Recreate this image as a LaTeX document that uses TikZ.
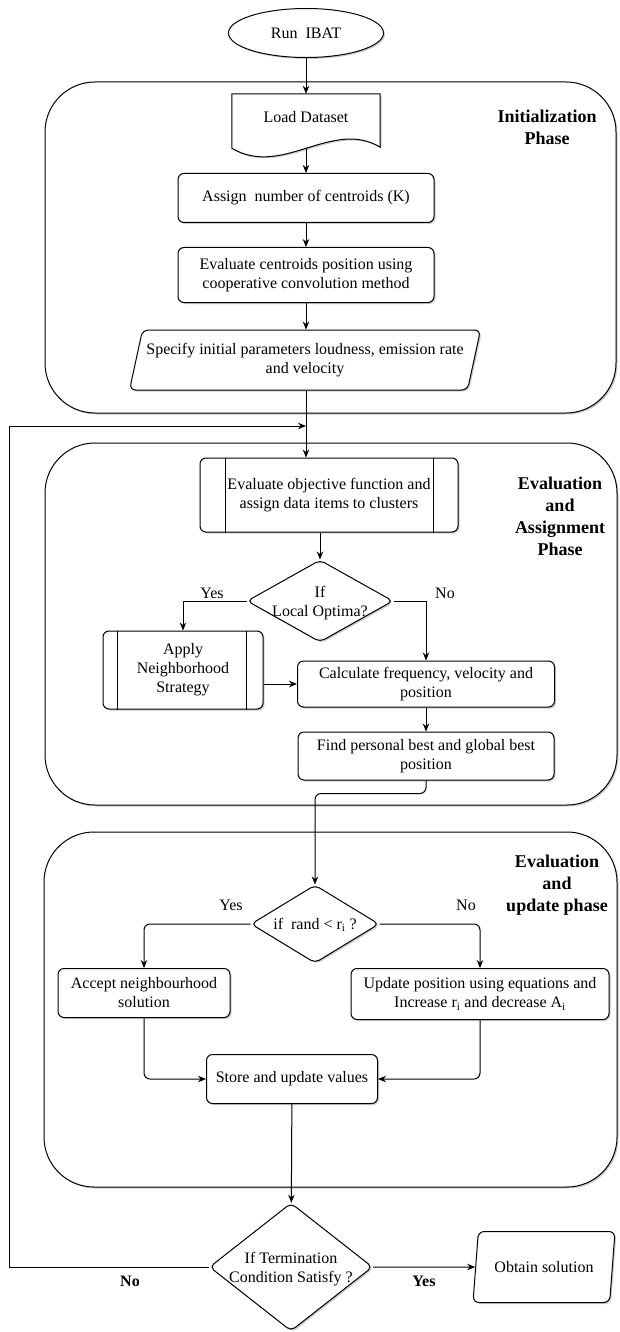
\documentclass[tikz,border=0pt]{standalone}
\usepackage{fontspec}
\setmainfont{Liberation Serif}
\usetikzlibrary{arrows.meta,shapes.geometric,shadows,calc}

\tikzset{
  every node/.style={font=\fontsize{16}{19}\selectfont, align=center},
  dshadow/.style={drop shadow={shadow xshift=1.5pt, shadow yshift=-1.5pt, opacity=0.4}},
  box/.style={draw, line width=1pt, fill=white, rounded corners=6pt, dshadow, inner sep=2pt},
  decision/.style={draw, line width=1pt, fill=white, diamond, rounded corners=5pt, inner sep=0pt, dshadow},
  io/.style={draw, line width=1pt, fill=white, trapezium, trapezium left angle=70,
    trapezium right angle=110, trapezium stretches body=true, rounded corners=6pt, dshadow, inner sep=1pt},
  phase/.style={draw, line width=1pt, fill=white, rounded corners=50pt, dshadow},
  phasetitle/.style={font=\fontsize{18}{22}\selectfont\bfseries},
  answer/.style={font=\fontsize{16}{19}\selectfont\bfseries},
  link/.style={line width=1pt},
  arr/.style={line width=1pt, -{Stealth[length=8pt, width=6.5pt]}}
}

\begin{document}
\begin{tikzpicture}[x=1pt, y=-1pt]
  \useasboundingbox (0,0) rectangle (619,1332);

  % phases
  \draw[phase] (45,82) rectangle (616,413);
  \draw[phase] (45,443) rectangle (617,805);
  \draw[phase] (44,832) rectangle (617,1187);
  \node[phasetitle] (ph1) at (547,127) {Initialization\\Phase};
  \node[phasetitle] (ph2) at (560,516) {Evaluation\\and\\Assignment\\Phase};
  \node[phasetitle] (ph3) at (557,885) {Evaluation\\and\\update phase};

  % initialization
  \node[ellipse, draw, line width=1pt, fill=white, dshadow, minimum width=155pt, minimum height=49pt] (run) at (306,33) {Run~ IBAT};
  \node[minimum width=148pt, minimum height=46pt, inner sep=0pt] (load) at (306,117) {};
  \draw[link, fill=white, dshadow] (load.north west) -- (load.north east) -- ($(load.south east)+(0,7)$)
    .. controls ($(load.south east)+(-48,-22)$) and ($(load.south west)+(50,38)$) .. ($(load.south west)+(0,8)$) -- cycle;
  \node (loadtxt) at (load) {Load Dataset};
  \node[box, minimum width=256pt, minimum height=49pt] (assign) at (306,198) {Assign~ number of centroids (K)};
  \node[box, minimum width=256pt, minimum height=55pt] (cent) at (306,275) {Evaluate centroids position using\\cooperative convolution method};
  \node[io, minimum width=351pt, minimum height=60pt] (spec) at (305,360) {Specify initial parameters loudness, emission rate\\and velocity};

  % evaluation and assignment
  \node[box, minimum width=258pt, minimum height=74pt] (obj) at (329,495) {Evaluate objective function and\\assign data items to clusters};
  \draw[link] ($(obj.north west)+(26,0)$) -- ($(obj.south west)+(26,0)$);
  \draw[link] ($(obj.north east)+(-25,0)$) -- ($(obj.south east)+(-25,0)$);
  \node[decision, minimum width=146pt, minimum height=82pt] (lo) at (320,601) {};
  \node (lotxt) at (320,603) {If\\Local Optima?};
  \node[box, minimum width=160pt, minimum height=78pt] (apply) at (183,670) {Apply\\Neighborhood\\Strategy};
  \draw[link] ($(apply.north west)+(15,0)$) -- ($(apply.south west)+(15,0)$);
  \draw[link] ($(apply.north east)+(-17,0)$) -- ($(apply.south east)+(-17,0)$);
  \node[box, minimum width=257pt, minimum height=46pt] (calc) at (426,684) {Calculate frequency, velocity and\\position};
  \node[box, minimum width=256pt, minimum height=48pt] (find) at (426,756) {Find personal best and global best\\position};
  \node (yes1) at (212,593) {Yes};
  \node (no1) at (445,593) {No};

  % evaluation and update
  \node[decision, minimum width=128pt, minimum height=78pt] (rnd) at (315,924) {};
  \node (rndtxt) at (315,925) {if~ rand < r\textsubscript{i} ?};
  \node[box, minimum width=172pt, minimum height=49pt] (acc) at (144,993) {Accept neighbourhood\\solution};
  \node[box, minimum width=258pt, minimum height=51pt] (upd) at (480,994) {Update position using equations and\\Increase r\textsubscript{i} and decrease A\textsubscript{i}};
  \node[box, minimum width=171pt, minimum height=49pt] (store) at (292,1079) {Store and update values};
  \node (yes2) at (231,905) {Yes};
  \node (no2) at (466,905) {No};

  % termination
  \node[decision, minimum width=163pt, minimum height=128pt] (term) at (291,1267) {};
  \node (termtxt) at (291,1269) {If Termination\\Condition Satisfy ?};
  \node[io, minimum width=142pt, minimum height=71pt, trapezium left angle=68, trapezium right angle=112] (obt) at (544,1267) {Obtain solution};
  \node[answer] (no3) at (130,1281) {No};
  \node[answer] (yes3) at (424,1281) {Yes};

  \coordinate (join) at (306,426);
  \coordinate (back) at (9,426);

  % connectors
  \draw[arr] (run) -- (load);
  \draw[arr] ($(load.south)+(0,8)$) -- (assign);
  \draw[arr] (assign) -- (cent);
  \draw[arr] (cent) -- (cent |- spec.north);
  \draw[arr] (cent |- spec.south) -- (cent |- obj.north);
  \draw[arr] (lo.north |- obj.south) -- (lo.north);
  \draw[arr] (lo.west) -| (apply.north);
  \draw[arr] (lo.east) -| (calc.north);
  \draw[arr] (apply.east |- calc.west) -- (calc.west);
  \draw[arr] (calc) -- (find);
  \draw[arr, rounded corners=6pt] (find.south) -- ++(0,13) -| (rnd.north);
  \draw[arr, rounded corners=6pt] (rnd.west) -| (acc.north);
  \draw[arr, rounded corners=6pt] (rnd.east) -| (upd.north);
  \draw[arr, rounded corners=6pt] (acc.south) |- (store.west);
  \draw[arr, rounded corners=6pt] (upd.south) |- (store.east);
  \draw[arr] (store) -- (term);
  \draw[link] (term.west) -| (back);
  \draw[arr] (back) -- (join);
  \draw[arr] (term) -- (obt);
\end{tikzpicture}
\end{document}
